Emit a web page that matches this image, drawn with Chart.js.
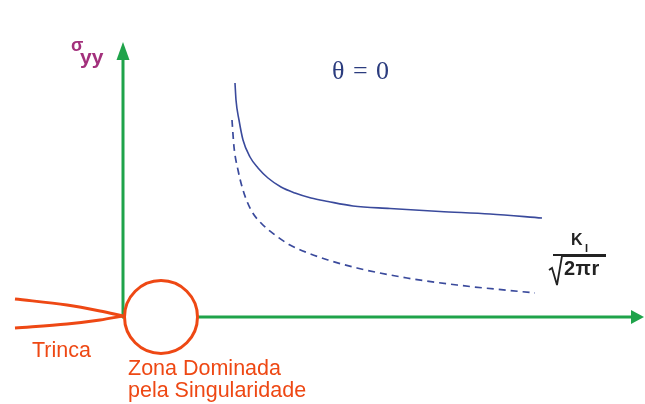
<!DOCTYPE html>
<html>
<head>
<meta charset="utf-8">
<script src="https://cdn.jsdelivr.net/npm/chart.js@4.4.1/dist/chart.umd.min.js"></script>
<style>
    html, body { margin: 0; padding: 0; background: #fff; }
    #wrap { position: relative; width: 645px; height: 404px; overflow: hidden; }
    canvas { position: absolute; left: 0; top: 0; }
    .lbl { position: absolute; white-space: nowrap; line-height: 1; font-family: 'Liberation Sans', Arial, sans-serif; }
    .orange { color: #ee4814; font-size: 21.5px; }
    #sig { left: 71px; top: 36px; font-size: 18px; font-weight: bold; color: #a3307c; }
    #yy { left: 80px; top: 46px; font-size: 21px; font-weight: bold; color: #a3307c; }
    #theta { left: 332px; top: 58px; font-family: 'Liberation Serif', 'Times New Roman', serif; font-size: 26px; word-spacing: 2px; color: #2b3c7e; }
    #k { left: 571px; top: 232px; font-size: 16px; font-weight: bold; color: #222; }
    #ksub { left: 585px; top: 243px; font-size: 11px; font-weight: bold; color: #222; }
    #den { left: 564px; top: 258px; font-size: 20px; font-weight: bold; color: #222; letter-spacing: 0.5px; }
    #frac { position: absolute; left: 0; top: 0; }
</style>
</head>
<body>
<div id="wrap">
    <canvas id="kChart" width="645" height="404"></canvas>
    <svg id="frac" width="645" height="404">
        <path d="M553 255 H606 M549 270 L552 268 L557 285 L562 256 H606" fill="none" stroke="#222" stroke-width="1.8"/>
    </svg>
    <div class="lbl" id="sig">σ</div>
    <div class="lbl" id="yy">yy</div>
    <div class="lbl" id="theta">θ = 0</div>
    <div class="lbl" id="k">K</div>
    <div class="lbl" id="ksub">I</div>
    <div class="lbl" id="den">2πr</div>
    <div class="lbl orange" style="left:32px; top:340px;">Trinca</div>
    <div class="lbl orange" style="left:128px; top:358px;">Zona Dominada</div>
    <div class="lbl orange" style="left:128px; top:380px;">pela Singularidade</div>
</div>
<script>
// distance from crack tip (r) and stress, origin at the tip
const R_MIN = -123;
const R_MAX = 522;
const S_MIN = -87;
const S_MAX = 317;
// where the axis arrows end
const R_ARROW = 521;
const S_ARROW = 275;

// full solution sigma_yy along theta = 0
const fullR = [112, 113, 116, 120, 127, 135, 145, 158, 172, 188, 205, 230, 267, 317, 367, 419];
const fullS = [234, 217, 197, 177, 160, 149, 139, 130, 124, 119, 115.5, 111, 108.5, 105.5, 103, 99];

// singular term K_I / sqrt(2 pi r)
const singR = [109, 111, 115, 120, 128, 138, 152, 167, 185, 205, 234, 284, 334, 412];
const singS = [197, 170, 147, 127, 107, 94, 82, 72, 64, 57, 49, 39, 32, 24];

// crack faces, meeting at the tip
const crackR = [-108, -56, -23, 0];
const crackUpper = [18, 12, 6, 1];
const crackLower = [-11, -7, -3, 1];

// centre of the singularity-dominated zone
const zoneR = [38];
const zoneS = [0];

const GREEN = '#1fa34a';
const BLUE = '#3a4a9c';
const ORANGE = '#ee4814';

function toPoints(xs, ys) {
    return xs.map((x, i) => ({ x: x, y: ys[i] }));
}

// green axes through the origin, with arrowheads
const axesArrows = {
    id: 'axesArrows',
    beforeDatasetsDraw(chart) {
        const ctx = chart.ctx;
        const xs = chart.scales.x;
        const ys = chart.scales.y;
        const x0 = xs.getPixelForValue(0);
        const y0 = ys.getPixelForValue(0);
        const xEnd = xs.getPixelForValue(R_ARROW);
        const yEnd = ys.getPixelForValue(S_ARROW);

        ctx.save();
        ctx.strokeStyle = GREEN;
        ctx.fillStyle = GREEN;
        ctx.lineWidth = 3;

        ctx.beginPath();
        ctx.moveTo(x0, y0 + 1);
        ctx.lineTo(x0, yEnd + 16);
        ctx.moveTo(x0 - 1, y0);
        ctx.lineTo(xEnd - 10, y0);
        ctx.stroke();

        ctx.beginPath();
        ctx.moveTo(x0, yEnd);
        ctx.lineTo(x0 - 6.5, yEnd + 18);
        ctx.lineTo(x0 + 6.5, yEnd + 18);
        ctx.closePath();
        ctx.fill();

        ctx.beginPath();
        ctx.moveTo(xEnd, y0);
        ctx.lineTo(xEnd - 13, y0 - 7);
        ctx.lineTo(xEnd - 13, y0 + 7);
        ctx.closePath();
        ctx.fill();
        ctx.restore();
    }
};

new Chart(document.getElementById('kChart'), {
    type: 'scatter',
    data: {
        datasets: [
            {
                label: 'zona',
                data: toPoints(zoneR, zoneS),
                pointRadius: 36.5,
                pointBackgroundColor: '#fff',
                pointBorderColor: ORANGE,
                pointBorderWidth: 3,
                clip: false,
                order: 0
            },
            {
                label: 'trinca sup',
                data: toPoints(crackR, crackUpper),
                showLine: true,
                borderColor: ORANGE,
                borderWidth: 3,
                pointRadius: 0,
                cubicInterpolationMode: 'monotone',
                clip: false,
                order: 1
            },
            {
                label: 'trinca inf',
                data: toPoints(crackR, crackLower),
                showLine: true,
                borderColor: ORANGE,
                borderWidth: 3,
                pointRadius: 0,
                cubicInterpolationMode: 'monotone',
                clip: false,
                order: 1
            },
            {
                label: 'sigma_yy',
                data: toPoints(fullR, fullS),
                showLine: true,
                borderColor: BLUE,
                borderWidth: 1.6,
                pointRadius: 0,
                cubicInterpolationMode: 'monotone',
                order: 2
            },
            {
                label: 'KI/sqrt(2 pi r)',
                data: toPoints(singR, singS),
                showLine: true,
                borderColor: BLUE,
                borderWidth: 1.7,
                borderDash: [7, 5],
                pointRadius: 0,
                cubicInterpolationMode: 'monotone',
                order: 2
            }
        ]
    },
    options: {
        responsive: false,
        animation: false,
        devicePixelRatio: 1,
        layout: { autoPadding: false, padding: 0 },
        plugins: {
            legend: { display: false },
            tooltip: { enabled: false }
        },
        scales: {
            x: { type: 'linear', min: R_MIN, max: R_MAX, display: false },
            y: { type: 'linear', min: S_MIN, max: S_MAX, display: false }
        }
    },
    plugins: [axesArrows]
});
</script>
</body>
</html>
